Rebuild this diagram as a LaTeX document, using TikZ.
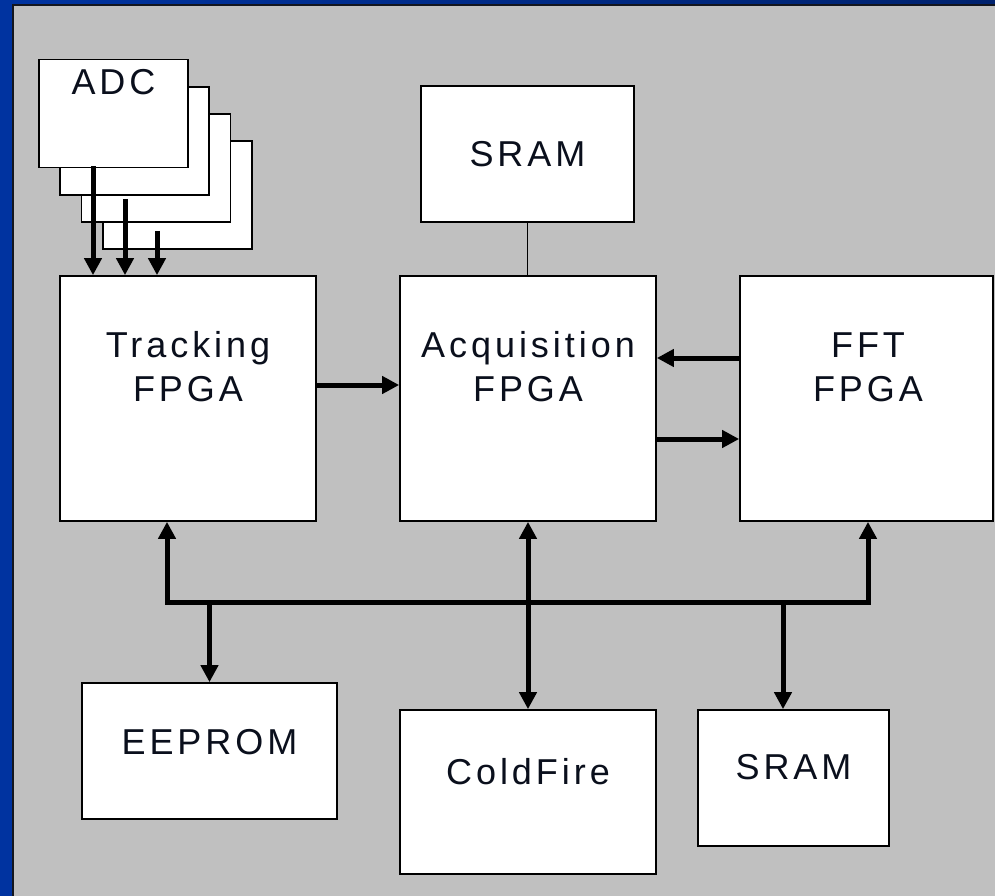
\documentclass[tikz,border=0pt]{standalone}
\usepackage{fontspec}
\setmainfont{Liberation Sans}[LetterSpace=11]
\usetikzlibrary{arrows.meta}

\definecolor{slideblue}{HTML}{0033A0}
\definecolor{slidenavy}{HTML}{00226E}
\definecolor{frameline}{HTML}{14161E}
\definecolor{panelgray}{HTML}{C0C0C0}
\definecolor{inktext}{HTML}{0A0F1C}

\tikzset{
  blk/.style={rectangle, draw=black, line width=1.7pt, fill=white, inner sep=0pt},
  lbl/.style={inner sep=0pt, align=center, text=inktext, anchor=base,
              font=\fontsize{36}{44}\selectfont},
  arr/.style={line width=5pt, -{Triangle[length=17pt,width=17pt]}},
  bus/.style={line width=5pt, line join=miter},
  tipboth/.style={{Triangle[length=17pt,width=17pt]}-{Triangle[length=17pt,width=17pt]}},
  wire/.style={line width=1.5pt}
}

\begin{document}
\begin{tikzpicture}[x=1pt,y=-1pt]
\useasboundingbox (0,0) rectangle (995,896);

% slide background and panel
\fill[slideblue] (0,0) rectangle (995,896);
\shade[left color=slideblue, right color=slidenavy] (0,0) rectangle (995,5);
\fill[frameline] (12,4) rectangle (995,896);
\fill[panelgray] (14,6) rectangle (995,896);

% stacked ADC boards, back to front
\node[blk, minimum width=149pt, minimum height=108pt] (adc4) at (177.5,195) {};
\node[blk, minimum width=149pt, minimum height=108pt] (adc3) at (156,168) {};
\node[blk, minimum width=149pt, minimum height=108pt] (adc2) at (134.5,141) {};
\node[blk, minimum width=149pt, minimum height=108pt] (adc1) at (113.5,113.5) {};
\node[lbl] (adc-l) at (113.5,95) {ADC};

% processing blocks (two-line labels: base is the second line)
\node[blk, minimum width=256pt, minimum height=245pt] (trk) at (188,398.5) {};
\node[blk, minimum width=256pt, minimum height=245pt] (acq) at (528,398.5) {};
\node[blk, minimum width=253pt, minimum height=245pt] (fft) at (866.5,398.5) {};
\node[lbl] (trk-l) at (188,401) {Tracking\\FPGA};
\node[lbl] (acq-l) at (528,401) {Acquisition\\FPGA};
\node[lbl] (fft-l) at (868,401) {FFT\\FPGA};

% memories and processor
\node[blk, minimum width=213pt, minimum height=136pt] (sram1) at (527.5,154) {};
\node[lbl] (sram1-l) at (527.5,167) {SRAM};
\node[blk, minimum width=255pt, minimum height=136pt] (eeprom) at (209.5,751) {};
\node[lbl] (eeprom-l) at (209.5,754) {EEPROM};
\node[blk, minimum width=256pt, minimum height=164pt] (cf) at (528,792) {};
\node[lbl] (cf-l) at (528,784) {ColdFire};
\node[blk, minimum width=191pt, minimum height=136pt] (sram2) at (793.5,778) {};
\node[lbl] (sram2-l) at (793.5,779) {SRAM};

% ADC data lines
\coordinate (a1) at ([xshift=-20.5pt,yshift=2pt]adc1.south);
\coordinate (a2) at ([xshift=-9.5pt,yshift=-3pt]adc2.south);
\coordinate (a3) at ([xshift=1pt,yshift=-8pt]adc3.south);
\draw[arr] (a1) -- (a1 |- trk.north);
\draw[arr] (a2) -- (a2 |- trk.north);
\draw[arr] (a3) -- (a3 |- trk.north);

% FPGA links
\draw[arr] ([yshift=13.5pt]trk.east) -- ([yshift=13.5pt]acq.west);
\draw[arr] ([yshift=40.5pt]fft.west) -- ([yshift=40.5pt]acq.east);
\draw[arr] ([yshift=-40.5pt]acq.east) -- ([yshift=-40.5pt]fft.west);
\draw[wire] (sram1.south) -- (sram1.south |- acq.north);

% processor bus
\coordinate (busL) at (167,602);
\coordinate (busR) at (868,602);
\coordinate (busS) at (783,602);
\draw[bus, tipboth] (trk.south -| busL) -- (busL) -- (busR) -- (fft.south -| busR);
\draw[bus, tipboth] (acq.south) -- (cf.north);
\draw[arr] (eeprom.north |- busL) -- (eeprom.north);
\draw[arr] (busS) -- (busS |- sram2.north);
\end{tikzpicture}
\end{document}
